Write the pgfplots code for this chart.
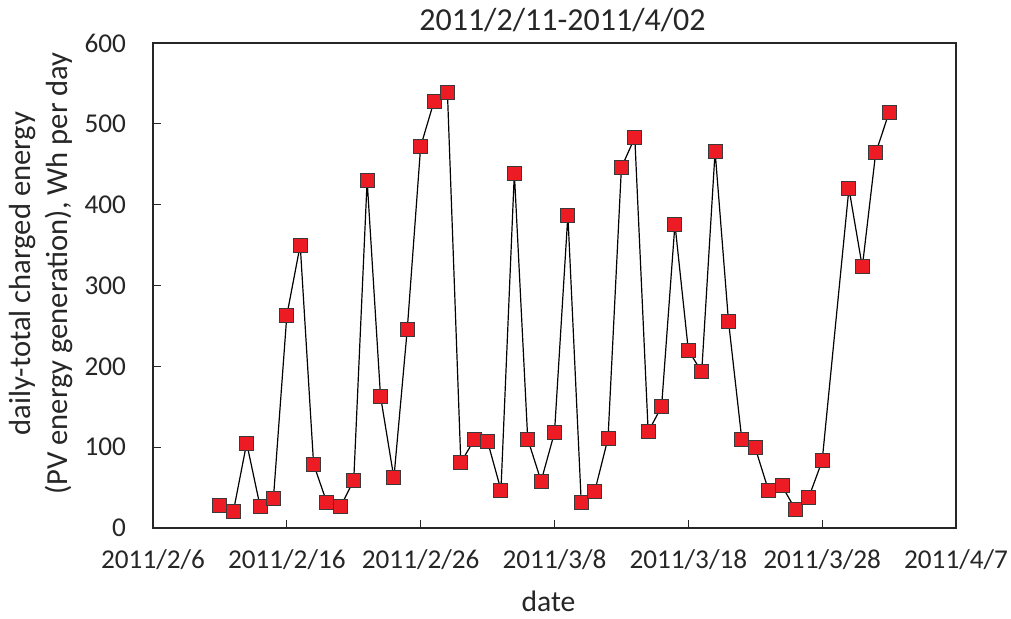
\documentclass[border=0pt]{standalone}
\usepackage{pgfplots}
\pgfplotsset{compat=1.18}
\usepackage{fontspec}
\setmainfont{Carlito}
\definecolor{mkred}{HTML}{ED1C24}
\definecolor{mkedge}{HTML}{3A3A3A}
\definecolor{txt}{HTML}{262626}
\begin{document}
\begin{tikzpicture}
\path[use as bounding box] (-76.5pt,-45.5pt) rectangle (429pt,264pt);
\begin{axis}[
  at={(0pt,0pt)}, anchor=south west,
  scale only axis,
  width=401.5pt, height=242.5pt,
  xmin=0, xmax=60, ymin=0, ymax=600,
  xtick={0,10,...,60},
  xticklabels={2011/2/6,2011/2/16,2011/2/26,2011/3/8,2011/3/18,2011/3/28,2011/4/7},
  ytick={0,100,...,600},
  tick align=inside,
  xtick pos=bottom, ytick pos=left,
  major tick length=4pt,
  tick style={line width=0.6pt, color=txt},
  axis line style={line width=0.75pt, color=txt},
  /pgf/number format/assume math mode=true,
  ticklabel style={font=\fontsize{13.6}{16}\selectfont, color=txt},
  yticklabel style={xshift=-10pt},
  xticklabel style={yshift=-7.5pt},
  title={2011/2/11-2011/4/02},
  title style={font=\fontsize{16}{18}\selectfont, color=txt, yshift=-4pt, xshift=4pt},
  xlabel={date},
  xlabel style={font=\fontsize{14.8}{17}\selectfont, color=txt, yshift=-3.5pt, xshift=-3pt},
  ylabel={daily-total charged energy\\(PV energy generation), Wh per day},
  ylabel style={font=\fontsize{15.3}{18.5}\selectfont, color=txt, align=center, yshift=-1pt, xshift=6pt},
  clip=false,
]
\addplot[color=black, line width=0.6pt, mark=square*, mark size=3.5pt,
  mark options={fill=mkred, draw=mkedge, line width=0.5pt}]
coordinates {
(5,28) (6,20) (7,105) (8,27) (9,37) (10,263) (11,350) (12,79) (13,31) (14,26)
(15,59) (16,430) (17,163) (18,62) (19,246) (20,472) (21,528) (22,539) (23,81) (24,109)
(25,107) (26,47) (27,439) (28,110) (29,58) (30,118) (31,387) (32,31) (33,45) (34,111)
(35,446) (36,483) (37,119) (38,150) (39,376) (40,220) (41,193) (42,466) (43,256) (44,109)
(45,99) (46,46) (47,52) (48,23) (49,38) (50,83) (52,420) (53,323) (54,464) (55,514)
};
\end{axis}
\end{tikzpicture}
\end{document}
